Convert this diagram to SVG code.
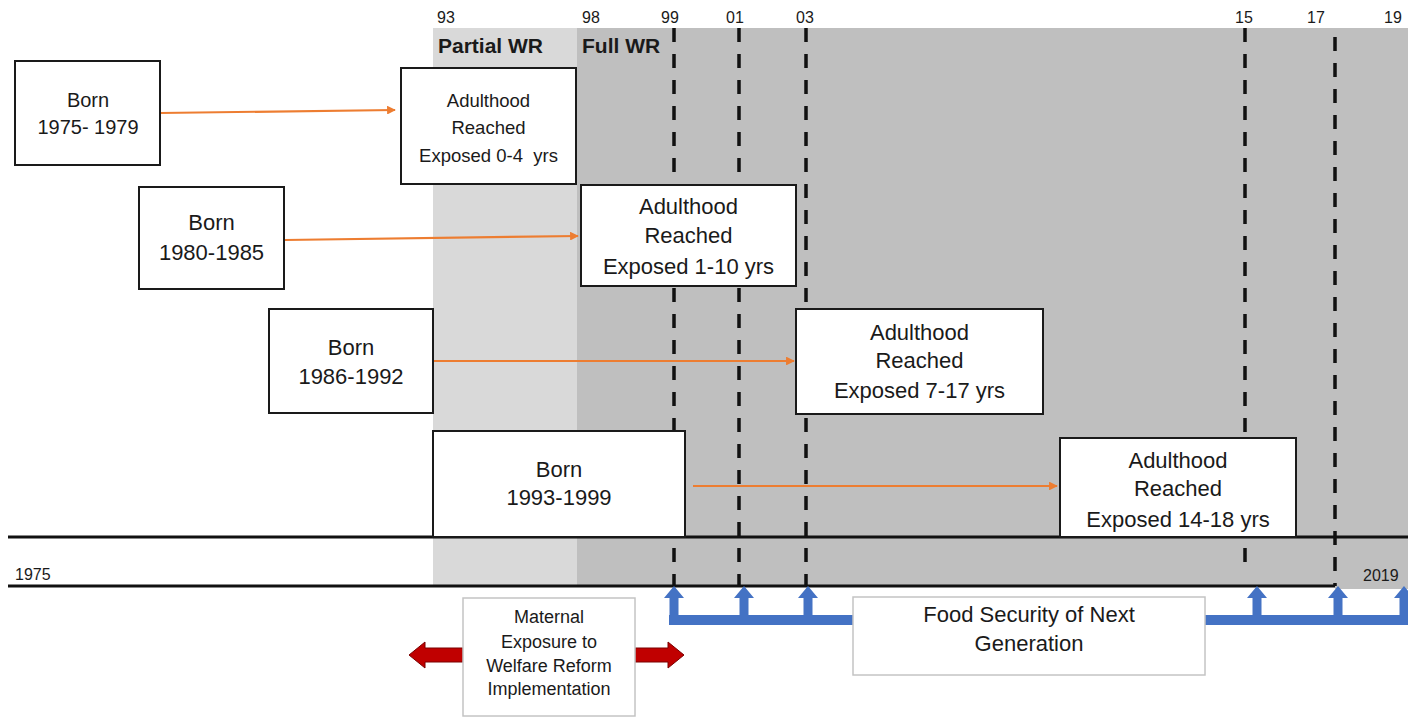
<svg xmlns="http://www.w3.org/2000/svg" width="1408" height="719" viewBox="0 0 1408 719">
<defs>
<style>
text{font-family:"Liberation Sans",Arial,sans-serif;fill:#1a1a1a}
.box{fill:#fff;stroke:#1a1a1a;stroke-width:2}
.lbox{fill:#fff;stroke:#c4c4c4;stroke-width:1.5}
.c{text-anchor:middle}
.t22{font-size:22px}
.t20{font-size:20px}
.t18{font-size:18.5px}
.yr{font-size:16px}
.wr{font-size:21px;font-weight:bold}
.dash{stroke:#111;stroke-width:3.5;stroke-dasharray:14 12;fill:none}
.axis{stroke:#111;stroke-width:3;fill:none}
.orange{stroke:#ed7d31;stroke-width:2.2;fill:none;marker-end:url(#oa)}
.blue{fill:#4472c4}
.red{fill:#c00000;stroke:#7a0000;stroke-width:1}
</style>
<marker id="oa" viewBox="0 0 10 10" refX="9" refY="5" markerWidth="4" markerHeight="4" orient="auto" markerUnits="strokeWidth">
<path d="M0,0 L10,5 L0,10 z" fill="#ed7d31"/>
</marker>
</defs>
<rect width="1408" height="719" fill="#fff"/>
<g id="bands">
<rect x="433" y="28" width="144" height="558" fill="#d9d9d9"/>
<rect x="577" y="28" width="831" height="558" fill="#bfbfbf"/>
<rect x="1335" y="586" width="73" height="3" fill="#bfbfbf"/>
</g>
<g id="year-labels">
<text class="yr" x="437" y="23">93</text>
<text class="yr" x="582" y="23">98</text>
<text class="yr" x="661" y="23">99</text>
<text class="yr" x="726" y="23">01</text>
<text class="yr" x="796" y="23">03</text>
<text class="yr" x="1235" y="23">15</text>
<text class="yr" x="1307" y="23">17</text>
<text class="yr" x="1384" y="23">19</text>
<text class="wr" x="438" y="53">Partial WR</text>
<text class="wr" x="582" y="53">Full WR</text>
</g>
<g id="dashed-lines">
<line class="dash" x1="674" y1="28" x2="674" y2="586"/>
<line class="dash" x1="739" y1="28" x2="739" y2="586"/>
<line class="dash" x1="806" y1="28" x2="806" y2="586"/>
<line class="dash" x1="1245" y1="28" x2="1245" y2="570"/>
<line class="dash" x1="1335" y1="37" x2="1335" y2="586"/>
</g>
<g id="axis">
<line class="axis" x1="8" y1="537" x2="1408" y2="537"/>
<line class="axis" x1="8" y1="586" x2="1335" y2="586"/>
<text class="yr" x="15" y="580">1975</text>
<text class="yr" x="1363" y="581">2019</text>
</g>
<g id="connectors">
<line class="orange" x1="160" y1="113" x2="395" y2="110"/>
<line class="orange" x1="285" y1="240" x2="578" y2="236"/>
<line class="orange" x1="433" y1="361" x2="794" y2="361"/>
<line class="orange" x1="693" y1="486" x2="1057" y2="486"/>
</g>
<g id="born-1975">
<rect class="box" x="15" y="61" width="145" height="104"/>
<text class="c t20" x="88" y="107">Born</text>
<text class="c t20" x="88" y="134">1975- 1979</text>
</g>
<g id="born-1980">
<rect class="box" x="139" y="187" width="145" height="102"/>
<text class="c t22" x="211.5" y="230">Born</text>
<text class="c t22" x="211.5" y="260">1980-1985</text>
</g>
<g id="born-1986">
<rect class="box" x="269" y="309" width="164" height="104"/>
<text class="c t22" x="351" y="355">Born</text>
<text class="c t22" x="351" y="384">1986-1992</text>
</g>
<g id="born-1993">
<rect class="box" x="433" y="431" width="252" height="106"/>
<text class="c t22" x="559" y="477">Born</text>
<text class="c t22" x="559" y="505">1993-1999</text>
</g>
<g id="adult-1">
<rect class="box" x="401" y="68" width="175" height="116"/>
<text class="c t18" x="488.5" y="106.5">Adulthood</text>
<text class="c t18" x="488.5" y="133.5">Reached</text>
<text class="c t18" x="488.5" y="161.5" xml:space="preserve">Exposed 0-4  yrs</text>
</g>
<g id="adult-2">
<rect class="box" x="581" y="185" width="215" height="101"/>
<text class="c t22" x="688.5" y="214">Adulthood</text>
<text class="c t22" x="688.5" y="243">Reached</text>
<text class="c t22" x="688.5" y="274">Exposed 1-10 yrs</text>
</g>
<g id="adult-3">
<rect class="box" x="796" y="309" width="247" height="105"/>
<text class="c t22" x="919.5" y="340">Adulthood</text>
<text class="c t22" x="919.5" y="368">Reached</text>
<text class="c t22" x="919.5" y="398">Exposed 7-17 yrs</text>
</g>
<g id="adult-4">
<rect class="box" x="1060" y="438" width="236" height="99"/>
<text class="c t22" x="1178" y="468">Adulthood</text>
<text class="c t22" x="1178" y="496">Reached</text>
<text class="c t22" x="1178" y="527">Exposed 14-18 yrs</text>
</g>
<g id="next-gen-arrows">
<rect class="blue" x="669" y="615" width="190" height="10"/>
<rect class="blue" x="1200" y="615" width="208" height="10"/>
<path class="blue" d="M669.5,625 V598 H664 L674,586 L684,598 H678.5 V625 Z"/>
<path class="blue" d="M739.5,620 V598 H734 L744,586 L754,598 H748.5 V620 Z"/>
<path class="blue" d="M803.5,620 V598 H798 L808,586 L818,598 H812.5 V620 Z"/>
<path class="blue" d="M1252.5,620 V598 H1247 L1257,586 L1267,598 H1261.5 V620 Z"/>
<path class="blue" d="M1333.5,620 V598 H1328 L1338,586 L1348,598 H1342.5 V620 Z"/>
<path class="blue" d="M1399.5,620 V598 H1394 L1404,586 L1414,598 H1408.5 V620 Z"/>
</g>
<g id="maternal-arrows">
<polygon class="red" points="409,655 425,642 425,648 463,648 463,662 425,662 425,668"/>
<polygon class="red" points="635,648 668,648 668,642 684,655 668,668 668,662 635,662"/>
</g>
<g id="maternal">
<rect class="lbox" x="463" y="598" width="172" height="118"/>
<text class="c" style="font-size:18px" x="549" y="623">Maternal</text>
<text class="c" style="font-size:18px" x="549" y="648">Exposure to</text>
<text class="c" style="font-size:18px" x="549" y="672">Welfare Reform</text>
<text class="c" style="font-size:18px" x="549" y="695">Implementation</text>
</g>
<g id="food-security">
<rect class="lbox" x="853" y="597" width="352" height="78"/>
<text class="c t22" x="1029" y="622">Food Security of Next</text>
<text class="c t22" x="1029" y="651">Generation</text>
</g>
</svg>
